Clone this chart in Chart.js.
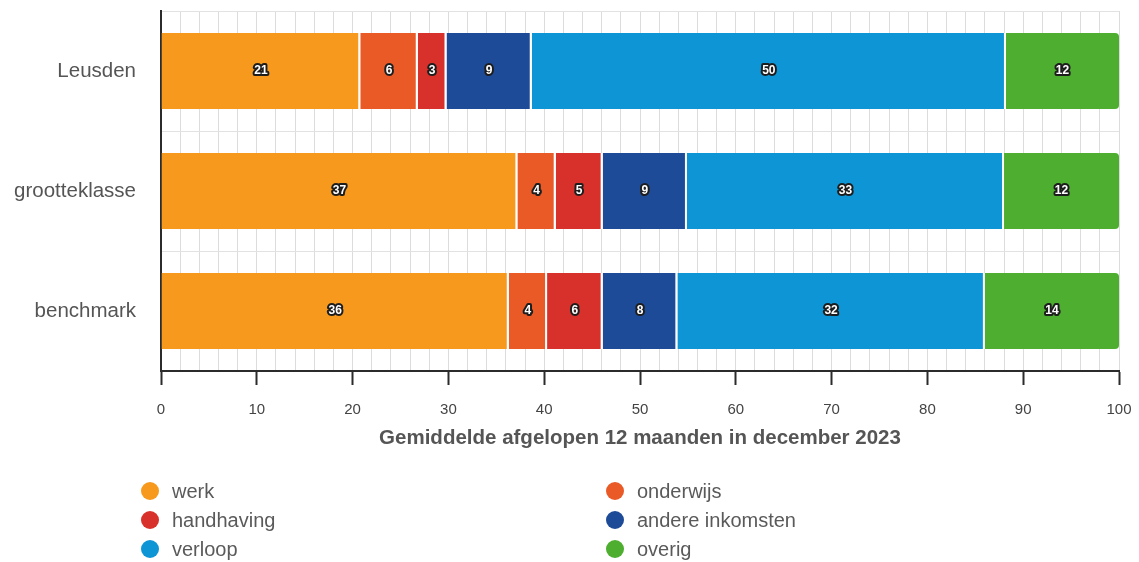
<!DOCTYPE html>
<html>
<head>
<meta charset="utf-8">
<script src="https://cdn.jsdelivr.net/npm/chart.js@4"></script>
<style>
  html, body { margin: 0; padding: 0; background: #fff; }
  #wrap { width: 1139px; height: 562px; }
</style>
</head>
<body>
<div id="wrap"><canvas id="chart" width="1139" height="562"></canvas></div>
<script>
const categories = ["Leusden", "grootteklasse", "benchmark"];
const seriesNames = ["werk", "onderwijs", "handhaving", "andere inkomsten", "verloop", "overig"];
const seriesColors = ["#F6991D", "#E95A27", "#D8302A", "#1E4B97", "#0E95D6", "#4DAE2F"];

// shares per category (labels are rounded)
const werk = [20.8, 37.2, 36.3];
const onderwijs = [6.0, 4.0, 4.0];
const handhaving = [3.0, 4.9, 5.8];
const andereInkomsten = [8.9, 8.8, 7.8];
const verloop = [49.5, 33.1, 32.1];
const overig = [11.8, 12.0, 14.0];

const xTicks = { min: 0, max: 100, step: 2, labelEvery: 10 };

const FONT = "'Liberation Sans', Arial, Helvetica, sans-serif";
const seriesValues = [werk, onderwijs, handhaving, andereInkomsten, verloop, overig];

const datasets = seriesNames.map((name, i) => {
  const last = i === seriesNames.length - 1;
  return {
    label: name,
    data: seriesValues[i],
    backgroundColor: seriesColors[i],
    borderColor: "#ffffff",
    borderWidth: last ? 0 : { top: 0, bottom: 0, left: 0, right: 2 },
    borderSkipped: false,
    borderRadius: last ? { topRight: 4, bottomRight: 4 } : 0,
    categoryPercentage: 0.8,
    barPercentage: 0.79,
  };
});

// value labels: white digits with a dark outline
const barLabels = {
  id: "barLabels",
  afterDatasetsDraw(chart) {
    const ctx = chart.ctx;
    ctx.save();
    ctx.font = "bold 12px " + FONT;
    ctx.textAlign = "center";
    ctx.textBaseline = "middle";
    ctx.lineJoin = "round";
    chart.data.datasets.forEach((ds, i) => {
      const meta = chart.getDatasetMeta(i);
      meta.data.forEach((bar, j) => {
        const p = bar.getCenterPoint();
        const txt = String(Math.round(ds.data[j]));
        ctx.lineWidth = 4;
        ctx.strokeStyle = "#1d1d1d";
        ctx.strokeText(txt, p.x, p.y);
        ctx.fillStyle = "#ffffff";
        ctx.fillText(txt, p.x, p.y);
      });
    });
    ctx.restore();
  },
};

// two-column legend with round markers below the axis
const roundLegend = {
  id: "roundLegend",
  afterDraw(chart) {
    const ctx = chart.ctx;
    ctx.save();
    ctx.font = "20px " + FONT;
    ctx.textBaseline = "middle";
    ctx.textAlign = "left";
    chart.data.datasets.forEach((ds, i) => {
      const col = i % 2;
      const row = Math.floor(i / 2);
      const cx = col ? 615 : 150;
      const cy = 491 + row * 29;
      ctx.beginPath();
      ctx.arc(cx, cy, 9, 0, Math.PI * 2);
      ctx.fillStyle = ds.backgroundColor;
      ctx.fill();
      ctx.fillStyle = "#5a5a5a";
      ctx.fillText(ds.label, cx + 22, cy + 1);
    });
    ctx.restore();
  },
};

new Chart(document.getElementById("chart").getContext("2d"), {
  type: "bar",
  data: { labels: categories, datasets },
  plugins: [barLabels, roundLegend],
  options: {
    indexAxis: "y",
    responsive: false,
    animation: false,
    layout: { padding: { top: 11, right: 20, bottom: 111, left: 0 } },
    plugins: {
      legend: { display: false },
      tooltip: { enabled: false },
    },
    scales: {
      x: {
        stacked: true,
        min: xTicks.min,
        max: xTicks.max,
        afterFit: (scale) => {
          scale.height = 80;
          scale.paddingLeft = 0;
          scale.paddingRight = 0;
        },
        border: { color: "#2b2b2b", width: 2 },
        grid: {
          color: "#dcdcdc",
          lineWidth: 1,
          tickLength: 14,
          tickColor: (c) => (c.tick && c.tick.value % xTicks.labelEvery === 0 ? "#2b2b2b" : "rgba(0,0,0,0)"),
          tickWidth: (c) => (c.tick && c.tick.value % xTicks.labelEvery === 0 ? 2 : 1),
        },
        ticks: {
          stepSize: xTicks.step,
          autoSkip: false,
          maxRotation: 0,
          padding: 16,
          color: "#444",
          font: { family: FONT, size: 15 },
          callback: (v) => (v % xTicks.labelEvery === 0 ? v : ""),
        },
        title: {
          display: true,
          text: "Gemiddelde afgelopen 12 maanden in december 2023",
          color: "#555",
          font: { family: FONT, size: 20.5, weight: "bold" },
          padding: { top: 4, bottom: 0 },
        },
      },
      y: {
        stacked: true,
        afterFit: (scale) => {
          scale.width = 161;
          scale.paddingTop = 0;
          scale.paddingBottom = 0;
        },
        border: { color: "#2b2b2b", width: 2 },
        grid: { color: "#e2e2e2", drawTicks: false },
        ticks: {
          padding: 25,
          color: "#555",
          font: { family: FONT, size: 20.5 },
        },
      },
    },
  },
});
</script>
</body>
</html>
